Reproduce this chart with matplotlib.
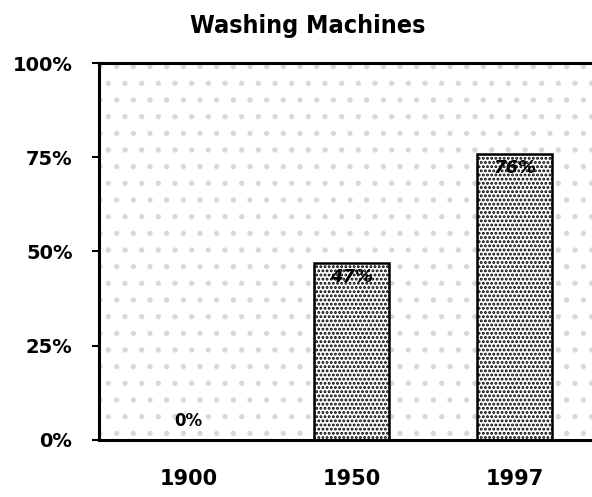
import matplotlib.pyplot as plt
from matplotlib.patches import Rectangle

years = ['1900', '1950', '1997']
share = [0, 47, 76]
value_labels = ['0%', '47%', '76%']
yticks = [0, 25, 50, 75, 100]
ytick_labels = ['0%', '25%', '50%', '75%', '100%']

plt.rcParams['hatch.linewidth'] = 1.4

fig = plt.figure(figsize=(5.92, 4.97), dpi=100)
ax = fig.add_axes([0.167, 0.115, 0.84, 0.758])

# light stipple behind the bars
ax.add_patch(Rectangle((0, 0), 1, 1, transform=ax.transAxes, facecolor='white',
                       edgecolor='#d8d8d8', hatch='.', linewidth=0, zorder=0))

x = list(range(len(years)))
ax.bar(x, share, width=0.46, facecolor='white', edgecolor='black',
       hatch='....', linewidth=1.8, zorder=2)

for i, (v, lab) in enumerate(zip(share, value_labels)):
    if v > 5:
        ax.text(i, v - 1.5, lab, ha='center', va='top', fontsize=13,
                fontweight='bold', style='italic', zorder=3)
    else:
        ax.text(i, v + 2.5, lab, ha='center', va='bottom', fontsize=12,
                fontweight='bold', zorder=3)

ax.set_xticks(x)
ax.set_xticklabels(years, fontsize=15, fontweight='bold')
ax.set_yticks(yticks)
ax.set_yticklabels(ytick_labels, fontsize=14, fontweight='bold')
ax.set_xlim(-0.55, 2.5)
ax.set_ylim(0, 100)
ax.tick_params(axis='y', length=5, width=1.5, pad=14)
ax.tick_params(axis='x', length=0, pad=21)

for s in ['left', 'bottom', 'top']:
    ax.spines[s].set_linewidth(2.2)
ax.spines['right'].set_visible(False)

fig.text(0.52, 0.948, 'Washing Machines', ha='center', va='center', fontsize=18,
         fontweight='heavy', fontstretch='condensed', family='DejaVu Sans')

plt.savefig('out.png', dpi=100)
